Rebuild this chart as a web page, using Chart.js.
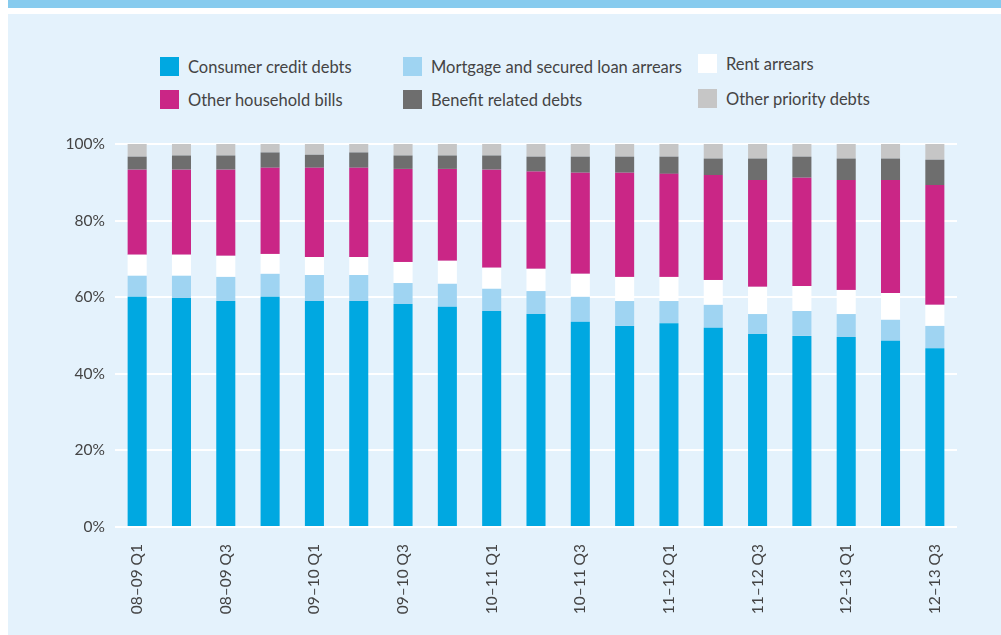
<!DOCTYPE html>
<html>
<head>
<meta charset="utf-8">
<script src="https://cdn.jsdelivr.net/npm/chart.js@4.4.1/dist/chart.umd.min.js"></script>
<style>
  html, body { margin:0; padding:0; background:#ffffff; }
  body { width:1001px; height:635px; position:relative; overflow:hidden; font-family: Lato, "Open Sans", sans-serif; }
  #band { position:absolute; left:8px; top:0; width:993px; height:8px; background:#87CBEE; }
  #panel { position:absolute; left:8px; top:14px; width:993px; height:621px; background:#E4F2FC; }
  #wrap { position:absolute; left:0; top:0; width:1001px; height:635px; }
  .lg { position:absolute; display:flex; align-items:center; font-size:16.5px; color:#444; white-space:nowrap; }
  .lg span.sw { display:inline-block; width:19px; height:19px; margin-right:9px; }
</style>
</head>
<body>
<div id="band"></div>
<div id="panel"></div>
<div id="legend"></div>
<div id="wrap"><canvas id="c" width="1001" height="635"></canvas></div>
<script>
const categories = [
  "08–09 Q1","08–09 Q2","08–09 Q3","08–09 Q4",
  "09–10 Q1","09–10 Q2","09–10 Q3","09–10 Q4",
  "10–11 Q1","10–11 Q2","10–11 Q3","10–11 Q4",
  "11–12 Q1","11–12 Q2","11–12 Q3","11–12 Q4",
  "12–13 Q1","12–13 Q2","12–13 Q3"
];
const consumerCredit = [60.1,59.8,59.0,60.1,59.0,59.0,58.2,57.5,56.4,55.6,53.6,52.5,53.2,52.0,50.4,49.9,49.6,48.6,46.7];
const mortgageArrears = [5.5,5.8,6.3,6.0,6.8,6.8,5.5,6.0,5.8,6.0,6.5,6.5,5.8,6.0,5.2,6.5,6.0,5.5,5.8];
const rentArrears = [5.5,5.5,5.5,5.2,4.7,4.7,5.5,6.0,5.5,5.8,6.0,6.3,6.3,6.5,7.1,6.5,6.3,7.0,5.5];
const otherHousehold = [22.2,22.2,22.5,22.5,23.3,23.3,24.3,24.0,25.6,25.4,26.4,27.2,26.9,27.4,27.9,28.3,28.7,29.5,31.3];
const benefitRelated = [3.4,3.7,3.7,4.0,3.4,4.0,3.5,3.5,3.7,3.9,4.2,4.2,4.5,4.3,5.6,5.5,5.6,5.6,6.6];
const otherPriority = [3.3,3.0,3.0,2.2,2.8,2.2,3.0,3.0,3.0,3.3,3.3,3.3,3.3,3.8,3.8,3.3,3.8,3.8,4.1];
const yTicks = [0,20,40,60,80,100];

const series = [
  {label:"Consumer credit debts", data:consumerCredit, color:"#00A8E1", lx:160, ly:57},
  {label:"Mortgage and secured loan arrears", data:mortgageArrears, color:"#9FD4F2", lx:403, ly:57},
  {label:"Rent arrears", data:rentArrears, color:"#FFFFFF", lx:698, ly:54},
  {label:"Other household bills", data:otherHousehold, color:"#CA2686", lx:160, ly:90},
  {label:"Benefit related debts", data:benefitRelated, color:"#6E6E6E", lx:403, ly:90},
  {label:"Other priority debts", data:otherPriority, color:"#C6C6C6", lx:698, ly:89}
];

const lg = document.getElementById('legend');
series.forEach(s => {
  const d = document.createElement('div');
  d.className = 'lg';
  d.style.left = s.lx + 'px';
  d.style.top = s.ly + 'px';
  d.style.height = '19px';
  const sw = document.createElement('span');
  sw.className = 'sw';
  sw.style.background = s.color;
  d.appendChild(sw);
  d.appendChild(document.createTextNode(s.label));
  lg.appendChild(d);
});

new Chart(document.getElementById('c'), {
  type: 'bar',
  data: {
    labels: categories,
    datasets: series.map(s => ({
      label: s.label,
      data: s.data,
      backgroundColor: s.color,
      borderWidth: 0,
      barPercentage: 0.43,
      categoryPercentage: 1.0
    }))
  },
  options: {
    responsive: false,
    animation: false,
    events: [],
    layout: { padding: { left: 0, right: 44, top: 144, bottom: 0 } },
    plugins: { legend: { display: false }, tooltip: { enabled: false } },
    scales: {
      x: {
        stacked: true,
        grid: { display: false },
        border: { display: false },
        ticks: {
          autoSkip: false,
          maxRotation: 90,
          minRotation: 90,
          padding: 9,
          color: '#444',
          font: { family: 'Lato', size: 15.5 },
          callback: function(v, i) { return i % 2 === 0 ? categories[i] : ''; }
        },
        afterFit: function(s) { s.height = 108; }
      },
      y: {
        stacked: true,
        min: 0,
        max: 100,
        afterBuildTicks: function(s) { s.ticks = yTicks.map(v => ({value: v})); },
        grid: { color: '#FFFFFF', lineWidth: 2, drawTicks: false },
        border: { display: false },
        ticks: {
          padding: 10,
          color: '#444',
          font: { family: 'Lato', size: 15.5 },
          callback: function(v) { return v + '%'; }
        },
        afterFit: function(s) { s.width = 115; }
      }
    }
  }
});
</script>
</body>
</html>
